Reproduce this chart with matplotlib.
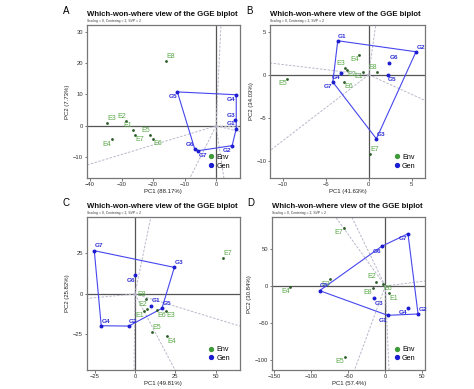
import numpy as np
import matplotlib.pyplot as plt
from matplotlib.lines import Line2D

plt.rcParams['font.family'] = ['Liberation Sans', 'DejaVu Sans']

env_names = ['E1', 'E2', 'E3', 'E4', 'E5', 'E6', 'E7', 'E8']
gen_names = ['G1', 'G2', 'G3', 'G4', 'G5', 'G6', 'G7']

# 面板 A
a_env_x = [-26.5, -28.5, -34.5, -33.2, -21.0, -20.0, -25.8, -16.0]
a_env_y = [-1.3, 1.6, 0.8, -4.3, -2.9, -4.2, -2.9, 20.6]
a_gen_x = [6.4, 5.1, 6.1, 6.4, -12.3, -6.8, -5.6]
a_gen_y = [-0.9, -6.3, 1.9, 9.9, 10.8, -7.3, -7.9]
a_pc = (88.17, 7.73)

# 面板 B
b_env_x = [-0.63, -2.5, -2.72, -1.13, -9.5, -2.83, 0.12, 1.0]
b_env_y = [0.35, 0.55, 0.81, 2.29, -0.47, -0.85, -9.2, 0.35]
b_gen_x = [-3.6, 5.5, 0.89, -3.22, 2.2, 2.36, -4.17]
b_gen_y = [3.95, 2.67, -7.44, 0.23, 0.0, 1.4, -0.85]
b_pc = (41.63, 34.03)

# 面板 C
c_env_x = [5.6, 7.6, 19.4, 19.6, 10.7, 13.8, 54.8, 6.9]
c_env_y = [-10.5, -9.2, -10.5, -26.2, -23.5, -10.1, 22.2, -3.1]
c_gen_x = [10.1, -3.9, 24.4, -20.9, 16.7, 0.2, -25.2]
c_gen_y = [-7.2, -19.8, 16.4, -19.6, -8.9, 11.5, 26.7]
c_pc = (49.81, 25.82)

# 面板 D
d_env_x = [5.0, -12.6, -74.3, -128.4, -54.9, -2.7, -56.2, -17.0]
d_env_y = [-9.9, 5.9, 9.0, -0.9, -95.9, 3.2, 78.7, -2.7]
d_gen_x = [3.2, 44.2, -15.3, 31.0, -88.7, -4.9, 30.6]
d_gen_y = [-39.8, -38.0, -16.7, -29.4, -6.3, 53.8, 71.0]
d_pc = (57.4, 30.84)

# 坐标轴范围和刻度
a_lim = ((-41, 7.5), (-16.6, 32.1), [-40, -30, -20, -10, 0], [-10, 0, 10, 20, 30])
b_lim = ((-11.44, 6.58), (-12.0, 5.78), [-10, -5, 0, 5], [-10, -5, 0, 5])
c_lim = ((-29.9, 64.9), (-46.9, 47.3), [-25, 0, 25, 50], [-25, 0, 25])
d_lim = ((-153, 54), (-114, 93.2), [-150, -100, -50, 0, 50], [-100, -50, 0, 50])

# 标签偏移方向
a_env_dir = [(-1, 1), (-1, 1), (1, 1), (-1, -1), (-1, 1), (1, -1), (1, -1), (1, 1)]
a_gen_dir = [(-1, 1), (-1, -1), (-1, 1), (-1, -1), (-1, -1), (-1, 1), (1, -1)]
b_env_dir = [(-1, -1), (1, -1), (-1, 1), (-1, -1), (-1, -1), (1, -1), (1, 1), (-1, 1)]
b_gen_dir = [(1, 1), (1, 1), (1, 1), (-1, -1), (1, -1), (1, 1), (-1, -1)]
c_env_dir = [(-1, -1), (-1, 1), (1, -1), (1, -1), (1, 1), (1, -1), (1, 1), (-1, 1)]
c_gen_dir = [(1, 1), (1, 1), (1, 1), (1, 1), (1, 1), (-1, -1), (1, 1)]
d_env_dir = [(1, -1), (-1, 1), (-1, -1), (-1, -1), (-1, -1), (1, -1), (-1, -1), (-1, -1)]
d_gen_dir = [(-1, -1), (1, 1), (1, -1), (-1, -1), (1, 1), (-1, -1), (-1, -1)]

W, H = 474, 389
# 各面板位置（像素）：左, 右, 上, 下
boxes = [(87, 239.7, 25, 178), (270.3, 425.3, 25, 178),
         (86.7, 239.7, 217.3, 370), (272, 425.3, 217.3, 370)]
letters = ['A', 'B', 'C', 'D']

env_pt = '#2a5a26'
env_txt = '#56a844'
gen_pt = '#1c1cd0'
gen_txt = '#3030d8'
hull_col = '#4646ee'
sect_col = '#b8b8cc'


def convex_hull(pts):
    pts = sorted(set(pts))
    def cross(o, a, b):
        return (a[0] - o[0]) * (b[1] - o[1]) - (a[1] - o[1]) * (b[0] - o[0])
    lower, upper = [], []
    for p in pts:
        while len(lower) >= 2 and cross(lower[-2], lower[-1], p) <= 0:
            lower.pop()
        lower.append(p)
    for p in reversed(pts):
        while len(upper) >= 2 and cross(upper[-2], upper[-1], p) <= 0:
            upper.pop()
        upper.append(p)
    return lower[:-1] + upper[:-1]


def draw_panel(fig, box, letter, ex, ey, gx, gy, pc, lims, edir, gdir):
    l, r, t, b = box
    ax = fig.add_axes([l / W, (H - b) / H, (r - l) / W, (b - t) / H])
    xlim, ylim, xt, yt = lims

    ax.axhline(0, color='#555555', lw=0.9, zorder=1)
    ax.axvline(0, color='#555555', lw=0.9, zorder=1)

    # 凸包
    hull = convex_hull(list(zip(gx, gy)))
    hx = [p[0] for p in hull] + [hull[0][0]]
    hy = [p[1] for p in hull] + [hull[0][1]]
    ax.plot(hx, hy, color=hull_col, lw=0.8, zorder=2)

    # 垂线（扇区）
    for i in range(len(hull)):
        p = np.array(hull[i])
        q = np.array(hull[(i + 1) % len(hull)])
        d = q - p
        tt = -np.dot(p, d) / np.dot(d, d)
        foot = p + tt * d
        ax.plot([0, foot[0] * 100], [0, foot[1] * 100], color=sect_col,
                lw=0.7, ls=(0, (2.5, 1.5)), zorder=1)

    ax.scatter(ex, ey, s=4, color=env_pt, zorder=3, linewidths=0)
    ax.scatter(gx, gy, s=8, color=gen_pt, zorder=3, linewidths=0)
    off = 3.4
    for n, x, y, (sx, sy) in zip(env_names, ex, ey, edir):
        ax.annotate(n, (x, y), xytext=(sx * off, sy * off), textcoords='offset points',
                    ha='center', va='center', fontsize=5, color=env_txt, zorder=4)
    for n, x, y, (sx, sy) in zip(gen_names, gx, gy, gdir):
        ax.annotate(n, (x, y), xytext=(sx * off, sy * off), textcoords='offset points',
                    ha='center', va='center', fontsize=4.6, color=gen_txt,
                    fontweight='bold', zorder=4)

    ax.set_xlim(*xlim)
    ax.set_ylim(*ylim)
    ax.set_xticks(xt)
    ax.set_yticks(yt)
    ax.tick_params(labelsize=4.2, length=1.8, width=0.5, pad=1,
                   colors='#444444', labelcolor='#333333')
    for s in ax.spines.values():
        s.set_color('#777777')
        s.set_linewidth(0.9)
    ax.set_xlabel('PC1 (%g%%)' % pc[0], fontsize=4.3, labelpad=1.5, color='#222222')
    ax.set_ylabel('PC2 (%g%%)' % pc[1], fontsize=4.3, labelpad=2, color='#222222')

    ax.text(0, 1.07, 'Which-won-where view of the GGE biplot', transform=ax.transAxes,
            fontsize=5.6, fontweight='bold', ha='left', va='center', color='#111111')
    ax.text(0, 1.025, 'Scaling = 0, Centering = 2, SVP = 2', transform=ax.transAxes,
            fontsize=2.4, ha='left', va='center', color='#333333')
    fig.text((l - 21) / W, 1 - (t - 14) / H, letter, fontsize=7, ha='center', va='center')

    handles = [Line2D([], [], marker='o', ls='', color='#3f9a3a', markersize=2.8),
               Line2D([], [], marker='o', ls='', color=gen_pt, markersize=2.8)]
    ax.legend(handles, ['Env', 'Gen'], loc='lower right', frameon=False, fontsize=5.2,
              handletextpad=0.2, handlelength=1, labelspacing=0.25,
              borderaxespad=0.3, bbox_to_anchor=(0.97, 0.02))
    return ax


fig = plt.figure(figsize=(W / 100, H / 100), dpi=100)
draw_panel(fig, boxes[0], 'A', a_env_x, a_env_y, a_gen_x, a_gen_y, a_pc, a_lim, a_env_dir, a_gen_dir)
draw_panel(fig, boxes[1], 'B', b_env_x, b_env_y, b_gen_x, b_gen_y, b_pc, b_lim, b_env_dir, b_gen_dir)
draw_panel(fig, boxes[2], 'C', c_env_x, c_env_y, c_gen_x, c_gen_y, c_pc, c_lim, c_env_dir, c_gen_dir)
draw_panel(fig, boxes[3], 'D', d_env_x, d_env_y, d_gen_x, d_gen_y, d_pc, d_lim, d_env_dir, d_gen_dir)

fig.savefig('out.png', dpi=100)
